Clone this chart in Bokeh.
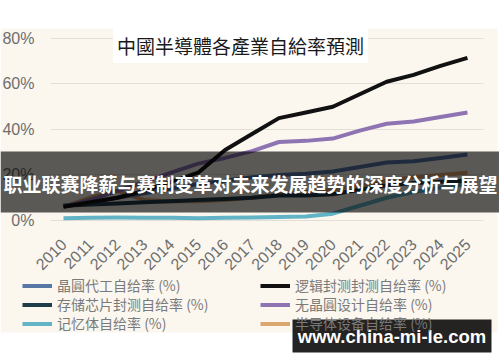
from math import pi
from bokeh.plotting import figure
from bokeh.models import (BoxAnnotation, Label, Legend, LegendItem, FixedTicker,
                          PrintfTickFormatter, Range1d)
from bokeh.embed import file_html
from bokeh.resources import INLINE

# ---------------- data ----------------
years = list(range(2010, 2026))
year_labels = [str(y) for y in years]
y_ticks = [0, 20, 40, 60, 80]

foundry = [6.5, 8, 10, 12, 14, 16, 17.5, 19, 20, 20.5, 21.5, 23.5, 25.5, 26, 27.5, 29]          # 晶圓代工
mem_pack = [6.5, 7, 7.5, 8, 8.5, 9, 9.5, 10, 11, 11, 11.5, 13.5, 15.5, 16.5, 17, 17.5]          # 存储芯片封测
memory = [1, 1.2, 1.3, 1.2, 1.2, 1, 1.2, 1.3, 1.5, 1.8, 3, 6.5, 10, 12.5, 14.5, 16]             # 记忆体
logic = [6, 8, 10, 13, 17, 21, 31, 38, 45, 47.5, 50, 55.5, 61, 64, 68, 71.5]                    # 逻辑封测
fabless = [6, 9, 13, 17, 21, 25, 27.5, 30.5, 34.5, 35, 36, 39.5, 42.5, 43.5, 45.5, 47.5]        # 无晶圆设计
equipment = [6, 10, 13, 9, 8.5, 8.5, 9, 10, 11.5, 12.5, 13.5, 15.5, 17.5, 19, 20, 21]           # 半导体设备

labels_left = ["晶圓代工自给率 (%)", "存储芯片封测自给率 (%)", "记忆体自给率 (%)"]
labels_right = ["逻辑封测封测自给率 (%)", "无晶圓设计自给率 (%)", "半导体设备自给率 (%)"]
title_text = "中國半導體各產業自給率預測"
banner_text = "职业联赛降薪与赛制变革对未来发展趋势的深度分析与展望"
watermark_text = "www.china-mi-le.com"

BEIGE = "#fbf7ef"
C_FOUNDRY = "#5876a6"
C_MEMPACK = "#1f3c48"
C_MEMORY = "#62b3c6"
C_LOGIC = "#111111"
C_FABLESS = "#8f74b4"
C_EQUIP = "#dba56e"

W, H = 499, 358
# the plotting frame fills the whole canvas; axes are pinned inside it
p = figure(width=W, height=H, output_backend="svg", toolbar_location=None,
           x_range=Range1d(2007.661, 2026.190), y_range=Range1d(-60.66, 96.70),
           min_border=0, min_border_left=0, min_border_right=0,
           min_border_top=0, min_border_bottom=0,
           border_fill_color="white", background_fill_color="white", outline_line_color=None)

AX_X = 2009.517   # left edge of the plotting area (x value)
AX_X2 = 2025.594  # right edge of the plotting area
AX_Y = -0.88      # bottom edge of the plotting area (y value)

# beige panel
p.add_layout(BoxAnnotation(left=0, right=497, top=28, bottom=332,
                           left_units="canvas", right_units="canvas",
                           top_units="canvas", bottom_units="canvas",
                           fill_color=BEIGE, fill_alpha=1, line_color=None, level="image"))

# axes
p.xaxis.fixed_location = AX_Y
p.xaxis.ticker = FixedTicker(ticks=years)
p.xaxis.major_label_overrides = {y: s for y, s in zip(years, year_labels)}
p.xaxis.major_label_orientation = pi / 4
p.xaxis.axis_line_color = None
p.xaxis.major_tick_line_color = None
p.xaxis.minor_tick_line_color = None
p.xaxis.major_label_standoff = 13
p.xaxis.major_label_text_font = "Liberation Sans"
p.xaxis.major_label_text_font_size = "16px"
p.xaxis.major_label_text_color = "#6e6e6e"

p.yaxis.fixed_location = AX_X
p.yaxis.ticker = FixedTicker(ticks=y_ticks)
p.yaxis.formatter = PrintfTickFormatter(format="%d%%")
p.yaxis.axis_line_color = None
p.yaxis.major_tick_line_color = None
p.yaxis.minor_tick_line_color = None
p.yaxis.major_label_standoff = 10
p.yaxis.major_label_text_font = "Liberation Sans"
p.yaxis.major_label_text_font_size = "16px"
p.yaxis.major_label_text_color = "#6e6e6e"

p.xgrid.grid_line_color = None
p.ygrid.ticker = FixedTicker(ticks=y_ticks)
p.ygrid.grid_line_color = "#e4dfd6"
p.ygrid.grid_line_width = 1
g = p.ygrid[0]
if "cross_bounds" in g.properties():
    g.cross_bounds = (AX_X, AX_X2)

# lines
r_memory = p.line(years, memory, line_color=C_MEMORY, line_width=4, line_join="round")
r_equip = p.line(years, equipment, line_color=C_EQUIP, line_width=4, line_join="round")
r_mempack = p.line(years, mem_pack, line_color=C_MEMPACK, line_width=4, line_join="round")
r_foundry = p.line(years, foundry, line_color=C_FOUNDRY, line_width=4, line_join="round")
r_fabless = p.line(years, fabless, line_color=C_FABLESS, line_width=4, line_join="round")
r_logic = p.line(years, logic, line_color=C_LOGIC, line_width=4, line_join="round")


def add_legend(label, renderer, loc):
    lg = Legend(items=[LegendItem(label=label, renderers=[renderer])], location=loc,
                orientation="vertical", background_fill_alpha=0, border_line_color=None,
                padding=0, margin=0, spacing=0,
                glyph_height=17, glyph_width=30, label_height=17, label_standoff=5,
                label_text_font="Noto Sans CJK SC", label_text_font_size="14px",
                label_text_color="#7a7a7a")
    p.add_layout(lg)


row_y = [63, 44, 25]   # legend rows (pixels from the bottom of the canvas)
add_legend(labels_left[0], r_foundry, (22, row_y[0]))
add_legend(labels_left[1], r_mempack, (22, row_y[1]))
add_legend(labels_left[2], r_memory, (22, row_y[2]))
add_legend(labels_right[0], r_logic, (260, row_y[0]))
add_legend(labels_right[1], r_fabless, (260, row_y[1]))
add_legend(labels_right[2], r_equip, (260, row_y[2]))

# title box
p.add_layout(Label(x=240, y=45, x_units="canvas", y_units="canvas", text=title_text,
                   text_align="center", text_baseline="middle",
                   text_font="Noto Sans CJK TC", text_font_size="19px", text_color="#1a1a1a",
                   background_fill_color="white", padding=4))

# banner overlay
p.add_layout(BoxAnnotation(left=0, right=W, top=151, bottom=212,
                           left_units="canvas", right_units="canvas",
                           top_units="canvas", bottom_units="canvas",
                           fill_color="black", fill_alpha=0.64, line_color=None, level="overlay"))
p.add_layout(Label(x=250, y=183, x_units="canvas", y_units="canvas", text=banner_text,
                   text_align="center", text_baseline="middle",
                   text_font="Noto Sans CJK SC", text_font_style="bold",
                   text_font_size="19px", text_color="white", level="overlay"))

# watermark
p.add_layout(BoxAnnotation(left=292, right=491, top=319, bottom=352,
                           left_units="canvas", right_units="canvas",
                           top_units="canvas", bottom_units="canvas",
                           fill_color="black", fill_alpha=0.86, line_color=None, level="overlay"))
p.add_layout(Label(x=391.5, y=336, x_units="canvas", y_units="canvas", text=watermark_text,
                   text_align="center", text_baseline="middle",
                   text_font="Liberation Sans", text_font_style="bold",
                   text_font_size="18.5px", text_color="white", level="overlay"))

open("out.html", "w").write(file_html(p, INLINE))
